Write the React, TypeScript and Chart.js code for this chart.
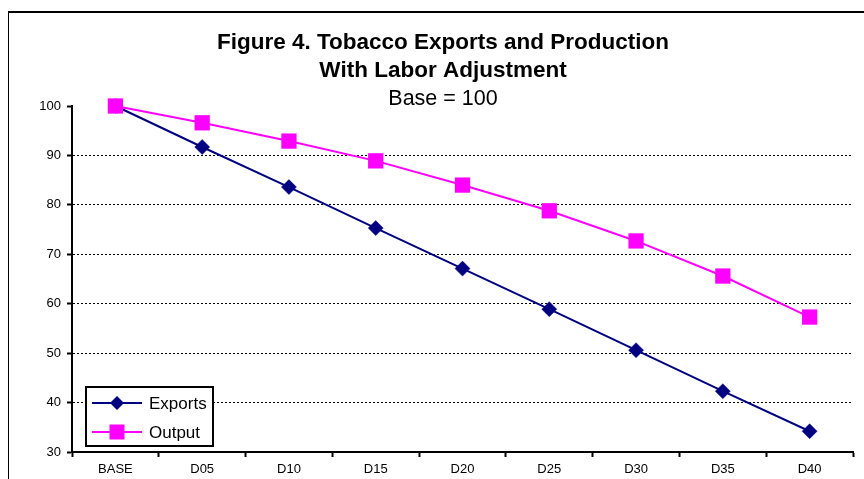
import React, { useEffect, useRef } from "react";
import { Chart, registerables } from "chart.js";

Chart.register(...registerables);

const categories = ["BASE", "D05", "D10", "D15", "D20", "D25", "D30", "D35", "D40"];
const exportsValues = [100, 91.7, 83.6, 75.3, 67.1, 58.9, 50.6, 42.3, 34.2];
const outputValues = [100, 96.6, 92.9, 88.9, 84.0, 78.8, 72.7, 65.6, 57.3];
const yTicks = [30, 40, 50, 60, 70, 80, 90, 100];
const titleLines = ["Figure 4. Tobacco Exports and Production", "With Labor Adjustment"];
const subtitleText = "Base = 100";

const FONT = '"Liberation Sans", Arial, sans-serif';
const NAVY = "#000080";
const MAGENTA = "#FF00FF";

const titlePlugin = {
  id: "customTitle",
  afterDraw(chart: any) {
    const ctx = chart.ctx;
    const cx = chart.width / 2;
    ctx.save();
    ctx.fillStyle = "#000";
    ctx.textAlign = "center";
    ctx.textBaseline = "middle";
    ctx.font = `bold 22.5px ${FONT}`;
    ctx.fillText(titleLines[0], cx, 35);
    ctx.fillText(titleLines[1], cx, 63);
    ctx.font = `21.5px ${FONT}`;
    ctx.fillText(subtitleText, cx, 91);
    ctx.restore();
  },
};

const legendPlugin = {
  id: "customLegend",
  afterDraw(chart: any) {
    const ctx = chart.ctx;
    const area = chart.chartArea;
    const left = area.left + 14;
    const w = 127;
    const h = 59;
    const top = area.bottom - 6 - h;
    ctx.save();
    ctx.fillStyle = "#fff";
    ctx.fillRect(left, top, w, h);
    ctx.strokeStyle = "#000";
    ctx.lineWidth = 2;
    ctx.strokeRect(left, top, w, h);
    const rows = [top + 16, top + 45];
    chart.data.datasets.forEach((ds: any, i: number) => {
      const y = rows[i];
      ctx.strokeStyle = ds.borderColor;
      ctx.lineWidth = ds.borderWidth;
      ctx.beginPath();
      ctx.moveTo(left + 6, y);
      ctx.lineTo(left + 56, y);
      ctx.stroke();
      const mx = left + 31;
      ctx.fillStyle = ds.pointBackgroundColor;
      ctx.beginPath();
      if (ds.pointStyle === "rectRot") {
        const r = 7;
        ctx.moveTo(mx - r, y);
        ctx.lineTo(mx, y - r);
        ctx.lineTo(mx + r, y);
        ctx.lineTo(mx, y + r);
        ctx.closePath();
      } else {
        const s = 7.5;
        ctx.rect(mx - s, y - s, 2 * s, 2 * s);
      }
      ctx.fill();
      ctx.fillStyle = "#000";
      ctx.font = `17px ${FONT}`;
      ctx.textAlign = "left";
      ctx.textBaseline = "middle";
      ctx.fillText(ds.label, left + 63, y + 1);
    });
    ctx.restore();
  },
};

export default function App() {
  const canvasRef = useRef<HTMLCanvasElement | null>(null);

  useEffect(() => {
    document.documentElement.style.overflow = "hidden";
    document.body.style.overflow = "hidden";
    if (!canvasRef.current) return;
    const chart = new Chart(canvasRef.current, {
      type: "line",
      data: {
        labels: categories,
        datasets: [
          {
            label: "Exports",
            data: exportsValues,
            order: 1,
            clip: false,
            borderColor: NAVY,
            backgroundColor: NAVY,
            pointBackgroundColor: NAVY,
            pointBorderColor: NAVY,
            borderWidth: 2,
            pointStyle: "rectRot",
            pointRadius: 7.5,
            pointBorderWidth: 0.5,
            tension: 0,
          },
          {
            label: "Output",
            data: outputValues,
            order: 0,
            clip: false,
            borderColor: MAGENTA,
            backgroundColor: MAGENTA,
            pointBackgroundColor: MAGENTA,
            pointBorderColor: MAGENTA,
            borderWidth: 2,
            pointStyle: "rect",
            pointRadius: 10.8,
            pointBorderWidth: 0,
            tension: 0,
          },
        ],
      },
      options: {
        responsive: false,
        animation: false,
        devicePixelRatio: 1,
        layout: { padding: { left: 0, right: 25, top: 98, bottom: 0 } },
        plugins: {
          legend: { display: false },
          title: { display: false },
          tooltip: { enabled: false },
        },
        scales: {
          x: {
            type: "category",
            offset: true,
            afterFit(scale: any) {
              scale.height = 27;
            },
            grid: {
              display: true,
              drawOnChartArea: false,
              drawTicks: true,
              tickLength: 5,
              offset: true,
              color: "#000",
              tickColor: "#000",
              tickWidth: 2,
            },
            border: { display: true, color: "#000", width: 2 },
            ticks: {
              color: "#000",
              padding: 5,
              font: { family: FONT, size: 13 },
              maxRotation: 0,
              autoSkip: false,
            },
          },
          y: {
            min: 30,
            max: 100,
            afterFit(scale: any) {
              scale.width = 64;
            },
            afterBuildTicks(scale: any) {
              scale.ticks = yTicks.map((v) => ({ value: v }));
            },
            grid: {
              display: true,
              drawOnChartArea: true,
              drawTicks: true,
              tickLength: 5,
              color: (c: any) =>
                c.tick && (c.tick.value === 100 || c.tick.value === 30) ? "rgba(0,0,0,0)" : "#000",
              lineWidth: 1,
              tickColor: "#000",
              tickWidth: 2,
              tickBorderDash: [],
            },
            border: { display: true, color: "#000", width: 2, dash: [2, 2] },
            ticks: {
              color: "#000",
              padding: 6,
              font: { family: FONT, size: 13 },
            },
          },
        },
      },
      plugins: [titlePlugin, legendPlugin],
    });
    return () => chart.destroy();
  }, []);

  return (
    <div style={{ position: "fixed", left: 8, top: 8, width: 856, height: 471, overflow: "hidden" }}>
      <div
        style={{
          position: "absolute",
          left: -1,
          top: 3,
          width: 950,
          height: 600,
          border: "2px solid #000",
        }}
      />
      <canvas
        ref={canvasRef}
        width={870}
        height={471}
        style={{ position: "absolute", left: 0, top: 0, width: 870, height: 471 }}
      />
    </div>
  );
}
